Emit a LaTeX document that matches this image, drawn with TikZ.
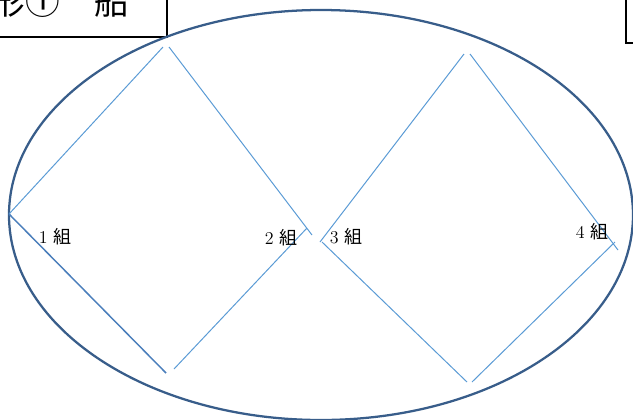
\documentclass[tikz,border=0pt]{standalone}
\usepackage{fontspec}
\usepackage{xcolor}
\usepackage{tikz}
\newfontfamily\jpfont{Noto Sans CJK JP}
\definecolor{bordoblu}{RGB}{56,93,138}
\definecolor{lineablu}{RGB}{91,155,213}
\definecolor{lineascura}{RGB}{74,126,187}
\tikzset{
	linea/.style={draw=lineablu, line width=0.75pt},
	etichetta/.style={font=\fontsize{13.5}{15}\selectfont, inner sep=0pt}
}

\begin{document}
\begin{tikzpicture}[x=0.75pt, y=-0.75pt]
		% Area del disegno
		\useasboundingbox (0,0) rectangle (633,419);
		
		% Riquadri in alto
		\draw[line width=1.2pt] (-20,-20) rectangle (167,37); % Riquadro a sinistra
		\node[inner sep=0pt, font=\jpfont\fontsize{26}{28}\selectfont] (titolo) at (60,1) {形①　船}; % Titolo
		\coordinate (rsu) at (626,-10);
		\coordinate (rgiu) at (626,43);
		\coordinate (rdx) at (640,43);
		\draw[line width=1.2pt] (rsu) -- (rgiu) -- (rdx); % Riquadro a destra
		
		% Ellisse
		\draw[draw=bordoblu, line width=1.7pt] (321,215) ellipse (312 and 205);
		
		% Vertici del primo rombo
		\coordinate (a1) at (9,214);
		\coordinate (a2) at (163,47);
		\coordinate (a3) at (169,47);
		\coordinate (a4) at (312,235);
		\coordinate (a5) at (307,228);
		\coordinate (a6) at (174,369);
		\coordinate (a7) at (166,373);
		
		% Vertici del secondo rombo
		\coordinate (b1) at (320,242);
		\coordinate (b2) at (464,54);
		\coordinate (b3) at (470,54);
		\coordinate (b4) at (618,250);
		\coordinate (b5) at (615,242);
		\coordinate (b6) at (472,382);
		\coordinate (b7) at (467,382);
		\coordinate (b8) at (322,242);
		
		% Lati del primo rombo
		\draw[linea] (a1) -- (a2);
		\draw[linea] (a3) -- (a4);
		\draw[linea] (a5) -- (a6);
		\draw[draw=lineascura, line width=1.1pt] (a7) -- (a1);
		
		% Lati del secondo rombo
		\draw[linea] (b1) -- (b2);
		\draw[linea] (b3) -- (b4);
		\draw[linea] (b5) -- (b6);
		\draw[linea] (b7) -- (b8);
		
		% Etichette dei gruppi
		\node[etichetta] (g1) at (55,237) {1\kern4pt{\jpfont 組}};
		\node[etichetta] (g2) at (281,238) {2\kern4pt{\jpfont 組}};
		\node[etichetta] (g3) at (346,237) {3\kern4pt{\jpfont 組}};
		\node[etichetta] (g4) at (592,232) {4\kern4pt{\jpfont 組}};
	\end{tikzpicture}
\end{document}
